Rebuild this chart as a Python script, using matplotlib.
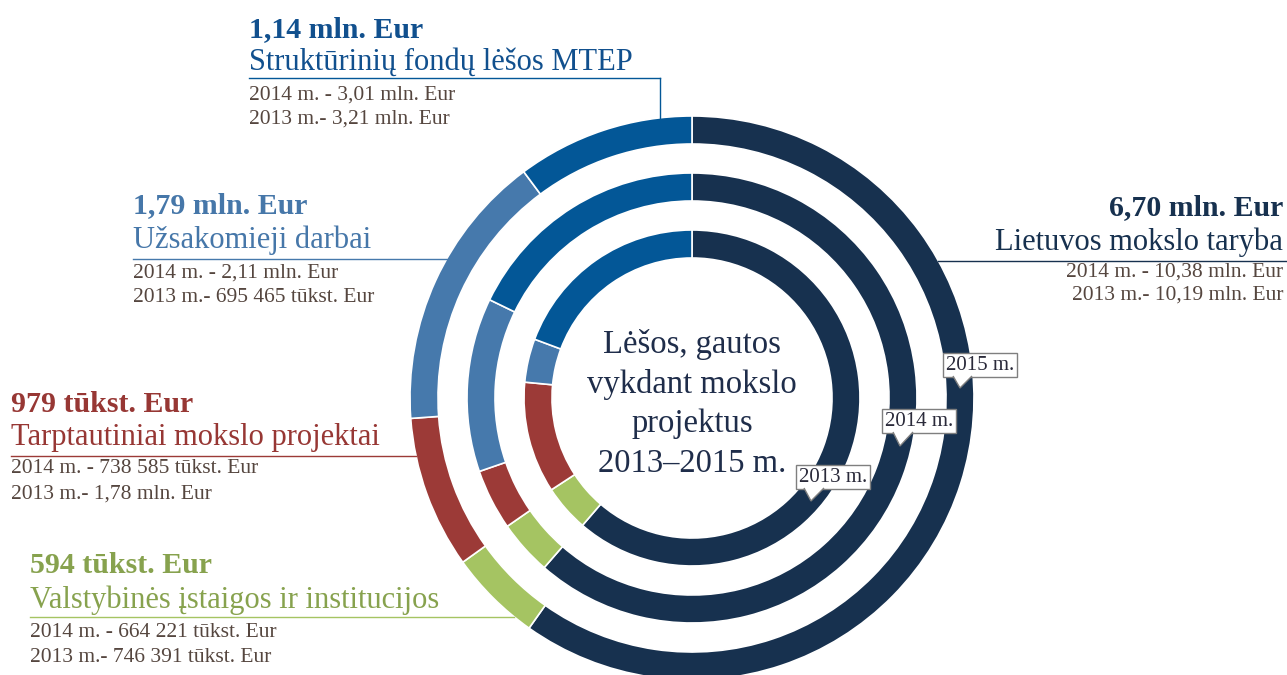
import matplotlib.pyplot as plt
from matplotlib.patches import Polygon

# data
categories = ['Lietuvos mokslo taryba', 'Valstybinės įstaigos ir institucijos',
              'Tarptautiniai mokslo projektai', 'Užsakomieji darbai',
              'Struktūrinių fondų lėšos MTEP']
vals_2015 = [6.70, 0.594, 0.979, 1.79, 1.14]
vals_2014 = [10.38, 0.664221, 0.738585, 2.11, 3.01]
vals_2013 = [10.19, 0.746391, 1.78, 0.695465, 3.21]
headlines = ['6,70 mln. Eur', '594 tūkst. Eur', '979 tūkst. Eur', '1,79 mln. Eur', '1,14 mln. Eur']
lines_2014 = ['2014 m. - 10,38 mln. Eur', '2014 m. - 664 221 tūkst. Eur',
              '2014 m. - 738 585 tūkst. Eur', '2014 m. - 2,11 mln. Eur', '2014 m. - 3,01 mln. Eur']
lines_2013 = ['2013 m.- 10,19 mln. Eur', '2013 m.- 746 391 tūkst. Eur',
              '2013 m.- 1,78 mln. Eur', '2013 m.- 695 465 tūkst. Eur', '2013 m.- 3,21 mln. Eur']
years = ['2015 m.', '2014 m.', '2013 m.']

ring_colors = ['#17314f', '#a5c462', '#9c3a37', '#4679ac', '#035797']
text_colors = ['#17314f', '#87a24e', '#973734', '#4677a9', '#11508e']
small_color = '#55463f'

plt.rcParams['font.family'] = ['Liberation Serif', 'DejaVu Serif']

W, H = 1287, 675
def Y(y):
    return H - y

fig = plt.figure(figsize=(12.87, 6.75), dpi=100)
ax = fig.add_axes([0, 0, 1, 1])

cx, cy = 692, Y(398)
ring_w = 28
for vals, r in [(vals_2015, 282), (vals_2014, 225), (vals_2013, 168)]:
    ax.pie(vals, radius=r, center=(cx, cy), colors=ring_colors, startangle=90,
           counterclock=False, wedgeprops=dict(width=ring_w, edgecolor='white', linewidth=1.2))

ax.set_xlim(0, W)
ax.set_ylim(0, H)
ax.set_aspect('equal')
ax.axis('off')

# label blocks: x, ha, baselines (head, sub, small1, small2), leader line y, line x-range
blocks = [
    (1283, 'right', (215, 250, 277, 300), 261, (938, 1286)),
    (30, 'left', (573, 608, 637, 662), 617, (30, 514)),
    (11, 'left', (412, 445, 473, 499), 456, (11, 416)),
    (133, 'left', (213, 248, 278, 302), 259, (133, 447)),
    (249, 'left', (37, 70, 100, 124), 78, (249, 660)),
]
for i, (x, ha, bl, ly, (x1, x2)) in enumerate(blocks):
    ax.text(x, Y(bl[0]), headlines[i], ha=ha, va='baseline', fontsize=21.5,
            fontweight='bold', color=text_colors[i])
    ax.text(x, Y(bl[1]), categories[i], ha=ha, va='baseline', fontsize=22,
            color=text_colors[i])
    ax.text(x, Y(bl[2]), lines_2014[i], ha=ha, va='baseline', fontsize=15.5, color=small_color)
    ax.text(x, Y(bl[3]), lines_2013[i], ha=ha, va='baseline', fontsize=15.5, color=small_color)
    ax.plot([x1, x2], [Y(ly), Y(ly)], color=ring_colors[i], lw=1)
# vertical leader for the top block
ax.plot([660, 660], [Y(78), Y(118)], color=ring_colors[4], lw=1)

# centre title
for txt, yb in zip(['Lėšos, gautos', 'vykdant mokslo', 'projektus', '2013–2015 m.'],
                   [353, 393, 432, 472]):
    ax.text(cx, Y(yb), txt, ha='center', va='baseline', fontsize=23.5, color='#1f2d4a')

# year callouts
callouts = [(980, 365, 953, 972, 960, 388),
            (919, 421, 893, 913, 900, 446),
            (833, 477, 804, 824, 811, 501)]
for yr, (tx, ty, t1, t2, apx, apy) in zip(years, callouts):
    ax.text(tx, Y(ty), yr, ha='center', va='center', fontsize=15, color='#2a2a3a', zorder=5,
            bbox=dict(boxstyle='square,pad=0.12', fc='white', ec='#7f7f7f', lw=1))
    by = ty + 11
    ax.add_patch(Polygon([(t1, Y(by)), (apx, Y(apy)), (t2, Y(by))], closed=False,
                         fc='white', ec='#7f7f7f', lw=1, zorder=6))

fig.savefig('out.png', dpi=100)
